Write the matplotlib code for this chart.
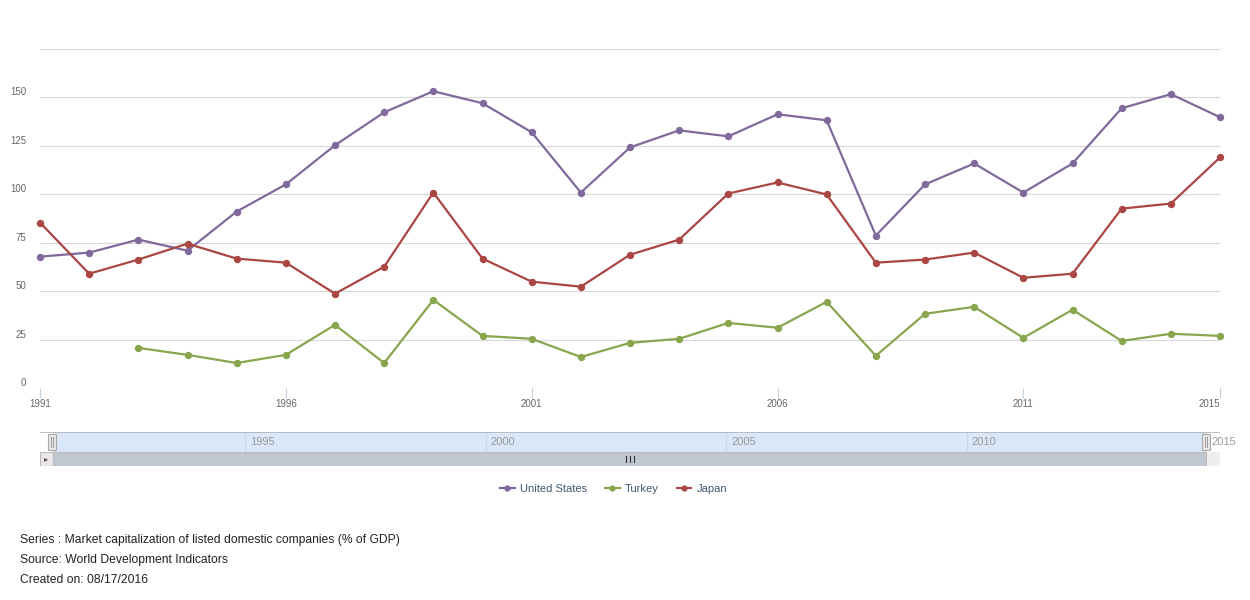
import matplotlib
matplotlib.use("Agg")
import matplotlib.pyplot as plt
from matplotlib.patches import Rectangle

plt.rcParams['font.family'] = ['Liberation Sans', 'DejaVu Sans']

# DATA
years = list(range(1991, 2016))
us = [67.8, 69.9, 76.6, 70.9, 91.1, 105.1, 125.3, 142.3, 153.2, 147.0, 132.0, 100.9,
      124.2, 133.0, 129.9, 141.3, 138.2, 78.7, 105.1, 115.9, 100.9, 115.9, 144.4, 151.7, 139.8]
japan = [85.4, 59.0, 66.3, 74.5, 66.8, 64.7, 48.7, 62.6, 100.9, 66.8, 54.9, 52.3,
         68.8, 76.6, 100.4, 106.1, 99.9, 64.7, 66.3, 69.9, 56.9, 59.0, 92.6, 95.2, 119.0]
turkey_years = list(range(1993, 2016))
turkey = [20.7, 17.1, 12.9, 17.1, 32.6, 12.9, 45.5, 26.9, 25.4, 16.0, 23.3, 25.4,
          33.6, 31.1, 44.5, 16.6, 38.3, 41.9, 25.9, 40.4, 24.3, 28.0, 26.9]

y_ticks = [0, 25, 50, 75, 100, 125, 150, 175]
x_ticks = [1991, 1996, 2001, 2006, 2011, 2015]
nav_ticks = [1995, 2000, 2005, 2010, 2015]

footnotes = ["Series : Market capitalization of listed domestic companies (% of GDP)",
             "Source: World Development Indicators",
             "Created on: 08/17/2016"]

c_us, c_tr, c_jp = '#80699B', '#89A54E', '#AA4643'

W, H = 1250, 600
fig = plt.figure(figsize=(W / 100, H / 100), dpi=100)

def px_axes(x0, y0, x1, y1):
    return fig.add_axes([x0 / W, 1 - y1 / H, (x1 - x0) / W, (y1 - y0) / H])

# main chart
ax = px_axes(40, 49, 1220, 388)
l_us, = ax.plot(years, us, color=c_us, lw=1.6, marker='o', ms=4.3, label='United States', clip_on=False)
l_tr, = ax.plot(turkey_years, turkey, color=c_tr, lw=1.6, marker='o', ms=4.3, label='Turkey', clip_on=False)
l_jp, = ax.plot(years, japan, color=c_jp, lw=1.6, marker='o', ms=4.3, label='Japan', clip_on=False)
ax.set_xlim(1991, 2015)
ax.set_ylim(0, 175)
ax.set_yticks(y_ticks)
ax.set_yticklabels([str(v) if v < 175 else '' for v in y_ticks])
for lab in ax.get_yticklabels():
    lab.set_verticalalignment('bottom')
ax.grid(axis='y', color='#d8d8d8', lw=0.8)
ax.yaxis.get_gridlines()[0].set_visible(False)
ax.set_axisbelow(True)
ax.tick_params(axis='y', length=0, pad=10, labelsize=7, labelcolor='#666666')
ax.set_xticks(x_ticks)
ax.set_xticklabels([str(v) for v in x_ticks])
ax.get_xticklabels()[-1].set_horizontalalignment('right')
ax.tick_params(axis='x', length=7, width=0.8, color='#C0D0E0', pad=1, labelsize=7, labelcolor='#666666')
for s in ax.spines.values():
    s.set_visible(False)

# navigator
ppy = 48.08  # navigator pixels per year
pad = 13 / ppy
nav = px_axes(40, 432, 1220, 452)
nav.set_xlim(1991 - pad, 2015 + pad)
nav.set_ylim(0, 20)
nav.axvspan(1991, 2015, color='#D9E7F8', lw=0)
for t in nav_ticks[:-1]:
    nav.axvline(t, color='#C8D8EA', lw=0.8)
for t in nav_ticks:
    nav.text(t + 0.1, 10, str(t), color='#999999', fontsize=8, va='center', ha='left', clip_on=False)
nav.axhline(20, color='#b2b1b6', lw=1.2)
hw = 4 / ppy
for t in (1991 - 1 / ppy, 2015 - 1 / ppy):
    nav.add_patch(Rectangle((t - hw, 2), 2 * hw, 16, facecolor='#ebe7e8', edgecolor='#aaaaaa', lw=0.8, zorder=5))
    for dx in (-1.2 / ppy, 1.2 / ppy):
        nav.plot([t + dx, t + dx], [5, 15], color='#999999', lw=0.7, zorder=6)
nav.set_xticks([])
nav.set_yticks([])
for s in nav.spines.values():
    s.set_visible(False)

# scrollbar
sb = px_axes(40, 452, 1220, 466)
sb.set_xlim(1991 - pad, 2015 + pad)
sb.set_ylim(0, 14)
sb.axvspan(1991 - pad, 2015 + pad, color='#eeeeee', lw=0)
sb.add_patch(Rectangle((1991 - pad, 0), pad, 14, facecolor='#ebe7e8', edgecolor='#bbbbbb', lw=0.8))
sb.text(1991 - pad / 2, 6.5, u'\u25b8', fontsize=6, color='#555555', ha='center', va='center')
sb.add_patch(Rectangle((1991, 0), 24 - 1 / ppy, 14, facecolor='#bfc8d1', edgecolor='#bbbbbb', lw=0.8))
for dx in (-3.5, 0, 3.5):
    sb.plot([2003 + dx / ppy] * 2, [4, 10], color='#333333', lw=0.8)
sb.set_xticks([])
sb.set_yticks([])
for s in sb.spines.values():
    s.set_visible(False)

# legend
fig.legend(handles=[l_us, l_tr, l_jp], loc='center', bbox_to_anchor=(0.491, 1 - 489 / H), ncol=3,
           frameon=False, fontsize=8, handlelength=1.3, columnspacing=1.6, handletextpad=0.5,
           labelcolor='#3E576F', markerscale=0.8)

for i, t in enumerate(footnotes):
    fig.text(20 / W, 1 - (540 + 20 * i) / H, t, fontsize=8.7, color='#222222', va='center', ha='left')

fig.savefig('out.png', dpi=100)
